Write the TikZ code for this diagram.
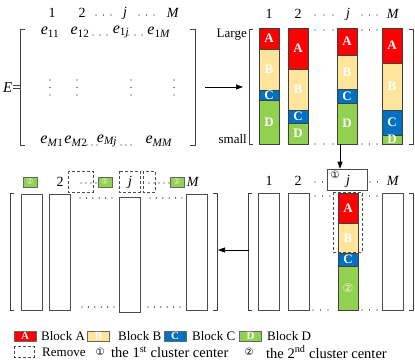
\documentclass[tikz,border=0pt]{standalone}
\usepackage{fontspec}
\setmainfont{Liberation Serif}
\newfontfamily\circfont{DejaVu Sans}
\usetikzlibrary{arrows.meta}
\definecolor{blkA}{HTML}{FF0000}
\definecolor{blkB}{HTML}{FFE59C}
\definecolor{blkC}{HTML}{0070C0}
\definecolor{blkD}{HTML}{92D050}

\begin{document}
\begin{tikzpicture}[
        x=1pt, y=-1pt,
        >={Triangle[length=7pt,width=5pt]},
        every node/.style={font=\fontsize{14}{16}\selectfont, inner sep=0pt},
        seg/.style={draw=black!75, line width=0.6pt},
        bar/.style={draw=black!70, line width=0.6pt},
        brk/.style={draw=black!75, line width=0.7pt},
        lbl/.style={text=white, font=\bfseries\fontsize{13}{13}\selectfont},
        ent/.style={font=\fontsize{16}{16}\selectfont},
        txt/.style={anchor=west, font=\fontsize{13}{15}\selectfont},
        dotrow/.style={line width=1.4pt, line cap=round, dash pattern=on 0pt off #1},
        dotrow/.default=7.5pt,
        rmv/.style={draw=black!70, line width=0.6pt, dash pattern=on 3pt off 2pt},
        hdrD/.style={fill=blkD, draw=black!60, line width=0.5pt, minimum width=14pt,
            minimum height=10pt, text=white!85!blkD, font=\circfont\fontsize{8}{8}\selectfont},
        legbox/.style={draw=black!60, line width=0.5pt, minimum width=22pt, minimum height=10pt,
            text=white, font=\bfseries\fontsize{11}{11}\selectfont}
    ]
    \useasboundingbox (0,0) rectangle (415,362);

    % matrix E
    \node (Eeq) at (12,88) {\fontsize{15}{15}\selectfont\textit{E}=};
    \draw[brk] (25,29) -| (20,145) -- (25,145);
    \draw[brk] (190,29) -| (195,145) -- (190,145);
    \node (Eh1) at (52,13) {1};
    \node (Eh2) at (82,13) {2};
    \node (Ehj) at (125,13) {\textit{j}};
    \node (EhM) at (173,13) {\textit{M}};
    \draw[dotrow] (96,15) -- (111.3,15);
    \draw[dotrow] (139,15) -- (154.3,15);
    \node[ent] (e11) at (50,32) {\textit{e}\textsubscript{11}};
    \node[ent] (e12) at (80,32) {\textit{e}\textsubscript{12}};
    \node[ent] (e1j) at (121,32) {\textit{e}\textsubscript{1\textit{j}}};
    \node[ent] (e1M) at (159,32) {\textit{e}\textsubscript{1\textit{M}}};
    \draw[dotrow=7pt] (93,35) -- (107.3,35);
    \draw[dotrow=7pt] (128,35) -- (142.3,35);
    \foreach \x in {50,77,131,174}
        \draw[dotrow=7.5pt] (\x,80) -- (\x,95.3);
    \node[ent] (eM1) at (52,141) {\textit{e}\textsubscript{\textit{M}1}};
    \node[ent] (eM2) at (76,141) {\textit{e}\textsubscript{\textit{M}2}};
    \node[ent] (eMj) at (107,141) {\textit{e}\textsubscript{\textit{Mj}}};
    \node[ent] (eMM) at (159,141) {\textit{e}\textsubscript{\textit{MM}}};
    \draw[dotrow=5pt] (87,145) -- (97.3,145);
    \draw[dotrow=5pt] (121,145) -- (131.3,145);

    \coordinate (Eout) at (205,87);
    \coordinate (Tin) at (243,87);
    \draw[->, line width=0.7pt] (Eout) -- (Tin);

    % sorted columns
    \draw[brk] (253,29) -| (249,144) -- (253,144);
    \draw[brk] (409,29) -| (413,144) -- (409,144);
    \node[txt, anchor=east] (large) at (247,35) {Large};
    \node[txt, anchor=east] (small) at (247,139) {small};
    \node (Th1) at (269,14) {1};
    \node (Th2) at (298,14) {2};
    \node (Thj) at (348,14) {\textit{j}};
    \node (ThM) at (393,14) {\textit{M}};
    \draw[dotrow=9pt] (315,15) -- (333.3,15);
    \draw[dotrow] (362,15) -- (377.3,15);
    \foreach \i/\x/\ya/\yb/\yc in {1/259/49/90/100, 2/288/69/110/123, j/337/55/89/103, M/382/63/110/135} {
        \draw[seg, fill=blkA] (\x,28) rectangle node[lbl] (tA\i) {A} (\x+20,\ya);
        \draw[seg, fill=blkB] (\x,\ya) rectangle node[lbl] (tB\i) {B} (\x+20,\yb);
        \draw[seg, fill=blkC] (\x,\yb) rectangle node[lbl] (tC\i) {C} (\x+20,\yc);
        \draw[seg, fill=blkD] (\x,\yc) rectangle node[lbl] (tD\i) {D} (\x+20,144);
    }
    \draw[dotrow=9pt] (315,30) -- (333.3,30);
    \draw[dotrow] (362,30) -- (377.3,30);
    \draw[dotrow=9pt] (315,144) -- (333.3,144);
    \draw[dotrow] (362,144) -- (377.3,144);

    \coordinate (jbot) at (340,144);
    \node[draw=black!70, line width=0.6pt, minimum width=40pt, minimum height=21pt] (ctr) at (347,179.5) {};
    \node (c1) at (335,175) {\circfont\fontsize{10}{10}\selectfont ①};
    \node (cj) at (348,181) {\textit{j}};
    \draw[->, line width=0.7pt] (jbot) -- (jbot |- ctr.north);

    % columns after choosing the first center
    \draw[brk] (252,193) -| (248,310) -- (252,310);
    \draw[brk] (409,193) -| (413,310) -- (409,310);
    \node (Bh1) at (269,181) {1};
    \node (Bh2) at (298,181) {2};
    \node (BhM) at (393,181) {\textit{M}};
    \draw[dotrow] (315,182) -- (322.8,182);
    \draw[dotrow] (370,182) -- (377.8,182);
    \foreach \x in {258,288,382}
        \draw[bar] (\x,193) rectangle (\x+21,310);
    \draw[seg, fill=blkA] (338,193) rectangle node[lbl] (bA) {A} (358,223);
    \draw[seg, fill=blkB] (338,223) rectangle node[lbl] (bB) {B} (358,253);
    \draw[seg, fill=blkC] (338,253) rectangle node[lbl] (bC) {C} (358,266);
    \draw[seg, fill=blkD] (338,266) rectangle node[text=white!80!blkD, font=\circfont\fontsize{12}{12}\selectfont] (bD) {②} (358,310);
    \draw[rmv] (333,192) rectangle (362,252);
    \draw[dotrow] (315,196) -- (330.3,196);
    \draw[dotrow] (362,196) -- (377.3,196);
    \draw[dotrow] (313,310) -- (328.3,310);
    \draw[dotrow] (362,310) -- (377.3,310);

    \coordinate (Rout) at (249,250);
    \coordinate (Lin) at (218,250);
    \draw[->, line width=0.7pt] (Rout) -- (Lin);

    % columns with the second centers
    \draw[brk] (14,193) -| (10,310) -- (14,310);
    \draw[brk] (213,193) -| (217,310) -- (213,310);
    \node[hdrD] (g1) at (30,182) {②};
    \node (Lh2) at (60,182) {2};
    \draw[rmv] (68,171) rectangle (93,192);
    \draw[dotrow=5pt] (81,183) -- (96.3,183);
    \node[hdrD] (g2) at (105,182) {②};
    \draw[rmv] (119,171) rectangle (140,192);
    \node (Lhj) at (130,182) {\textit{j}};
    \draw[rmv] (143,171) rectangle (155,192);
    \draw[dotrow=5pt] (149,183) -- (169.3,183);
    \node[hdrD] (g3) at (177,182) {②};
    \node (LhM) at (193,182) {\textit{M}};
    \foreach \x in {21,49,186}
        \draw[bar] (\x,194) rectangle (\x+21,310);
    \draw[bar] (119,197) rectangle (140,312);
    \draw[dotrow=6.4pt] (80,198) -- (112.3,198);
    \draw[dotrow=6.4pt] (150,198) -- (182.3,198);
    \draw[dotrow=6.4pt] (82,307) -- (114.3,307);
    \draw[dotrow=6.4pt] (148,307) -- (180.3,307);

    % legend
    \node[legbox, fill=blkA] (legA) at (25,336) {A};
    \node[txt] (txA) at (41,336) {Block A};
    \node[legbox, fill=blkB] (legB) at (98.5,336) {B};
    \node[txt] (txB) at (118,336) {Block B};
    \node[legbox, fill=blkC] (legC) at (175,336) {C};
    \node[txt] (txC) at (192,336) {Block C};
    \node[legbox, fill=blkD] (legD) at (250.5,336) {D};
    \node[txt] (txD) at (267,336) {Block D};
    \draw[rmv] (14,346) rectangle (34,357);
    \node[txt] (txR) at (42,352) {Remove};
    \node (leg1) at (100,352) {\circfont\fontsize{10}{10}\selectfont ①};
    \node[txt, font=\fontsize{14.5}{16}\selectfont] (tx1) at (111,352) {the 1\textsuperscript{st} cluster center};
    \node (leg2) at (249,352) {\circfont\fontsize{10}{10}\selectfont ②};
    \node[txt, font=\fontsize{14.5}{16}\selectfont] (tx2) at (266,352) {the 2\textsuperscript{nd} cluster center};
\end{tikzpicture}
\end{document}
